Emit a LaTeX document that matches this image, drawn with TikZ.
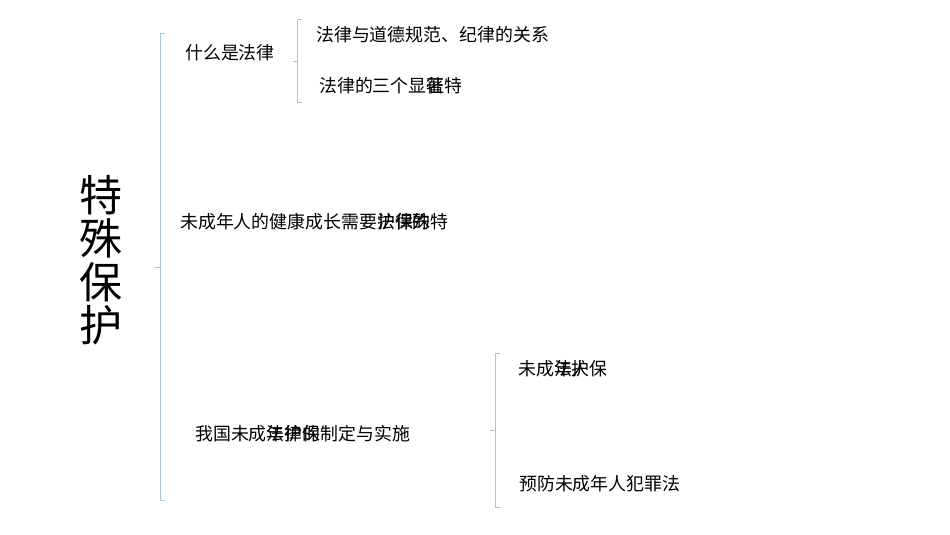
\documentclass[tikz,border=0pt]{standalone}
\usepackage{fontspec}
\setmainfont{Noto Sans CJK SC}
\newcommand{\ovl}[2]{\rlap{#1}#2}
\definecolor{brk}{HTML}{ABC5D6}
\tikzset{
  lbl/.style={anchor=west, inner sep=0pt, font=\fontsize{17.9}{20}\selectfont},
  brace/.style={draw=brk, line width=0.9pt},
}
\begin{document}
\begin{tikzpicture}[x=1pt,y=-1pt]
\useasboundingbox (0,0) rectangle (950,535);
% title
\node[inner sep=0pt, align=center, font=\fontsize{43}{43.5}\selectfont] (title) at (101,260) {特\\殊\\保\\护};
% main bracket
\coordinate (m0) at (154,267);
\draw[brace] (165,33) -- (160,33) -- (160,500) -- (165,500);
\draw[brace] (m0) -- (160,267);
% level 1 nodes
\node[lbl] (a) at (185,53) {什么是法律};
\node[lbl] (b) at (180,222) {未成年人的健康成长需要\ovl{法}{护}\ovl{律}{保}\ovl{的}{殊}特};
\node[lbl] (c) at (195,434) {我国未成\ovl{年}{法}\ovl{护}{律}\ovl{保}{的}制定与实施};
% second bracket
\coordinate (m1) at (293,61);
\draw[brace] (302,19) -- (297,19) -- (297,102) -- (302,102);
\draw[brace] (m1) -- (297,61);
\node[lbl] (a1) at (316,35) {法律与道德规范、纪律的关系};
\node[lbl] (a2) at (319,86) {法律的三个显\ovl{著}{征}特};
% third bracket
\coordinate (m2) at (490,430);
\draw[brace] (500,353) -- (495,353) -- (495,507) -- (500,507);
\draw[brace] (m2) -- (495,430);
\node[lbl] (c1) at (518,369) {未成\ovl{年}{法}\ovl{人}{护}保};
\node[lbl] (c2) at (519,484) {预防未成年人犯罪法};
\end{tikzpicture}
\end{document}
